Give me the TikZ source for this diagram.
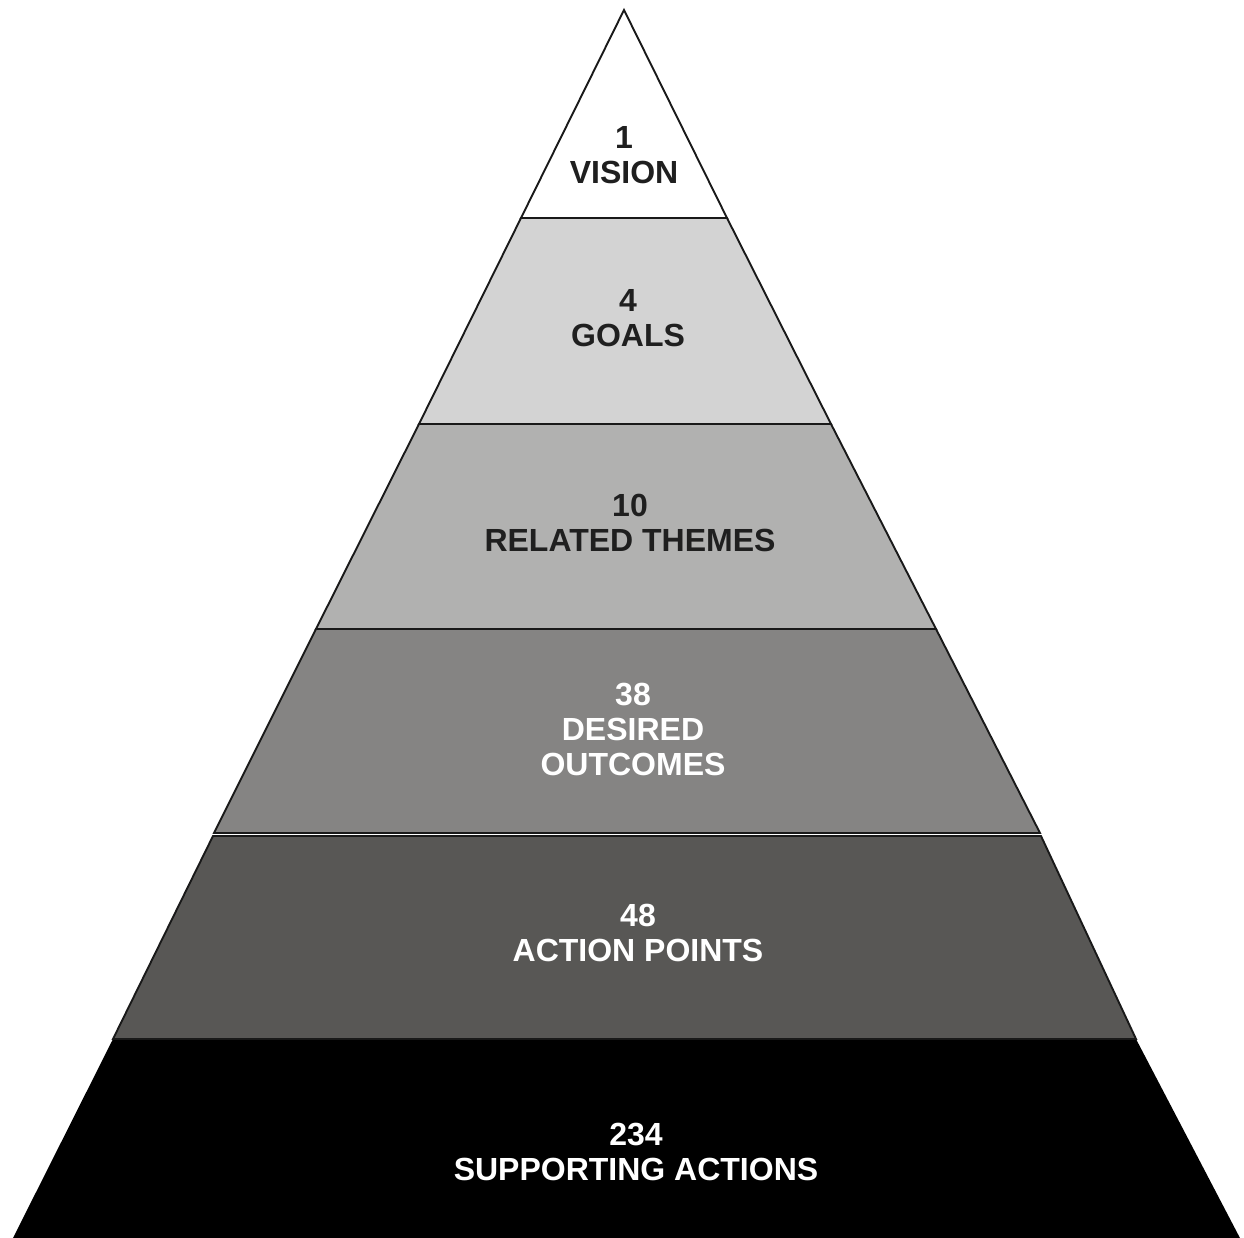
\documentclass[tikz,border=0pt]{standalone}
\usepackage{fontspec}
\setmainfont{Liberation Sans}
\begin{document}
\begin{tikzpicture}[x=1pt,y=-1pt,
  layer/.style={draw=black!90,line width=1.9pt,line join=miter},
  lbl/.style={font=\fontsize{32}{35}\selectfont\bfseries,align=center,inner sep=0pt},
  dark/.style={lbl,text=black!88},
  light/.style={lbl,text=white}]
\useasboundingbox (0,0) rectangle (1244,1238);
\definecolor{cgoals}{HTML}{D3D3D3}
\definecolor{cthemes}{HTML}{B1B1B0}
\definecolor{cdesired}{HTML}{858483}
\definecolor{caction}{HTML}{585755}
% coordinates
\coordinate (A) at (624,10);
\coordinate (L1) at (521,218); \coordinate (R1) at (727,218);
\coordinate (L2) at (419,424); \coordinate (R2) at (831,424);
\coordinate (L3) at (316,629); \coordinate (R3) at (936,629);
\coordinate (L4) at (214,833); \coordinate (R4) at (1040,833);
\coordinate (L4b) at (213,836); \coordinate (R4b) at (1041,836);
\coordinate (L5) at (113,1039); \coordinate (R5) at (1136,1039);
\coordinate (L6) at (12,1240); \coordinate (R6) at (1241,1240);
% layers
\fill[black] (L5) -- (R5) -- (R6) -- (L6) -- cycle;
\draw[layer,fill=caction] (L4b) -- (R4b) -- (R5) -- (L5) -- cycle;
\draw[layer,fill=cdesired] (L3) -- (R3) -- (R4) -- (L4) -- cycle;
\draw[layer,fill=cthemes] (L2) -- (R2) -- (R3) -- (L3) -- cycle;
\draw[layer,fill=cgoals] (L1) -- (R1) -- (R2) -- (L2) -- cycle;
\draw[layer,fill=white] (A) -- (R1) -- (L1) -- cycle;
% labels
\node[dark] (vision) at (624,155) {1\\VISION};
\node[dark] (goals) at (628,318) {4\\GOALS};
\node[dark] (themes) at (630,523) {10\\RELATED THEMES};
\node[light] (desired) at (633,729) {38\\DESIRED\\OUTCOMES};
\node[light] (action) at (638,933) {48\\ACTION POINTS};
\node[light] (support) at (636,1152) {234\\SUPPORTING ACTIONS};
\end{tikzpicture}
\end{document}
